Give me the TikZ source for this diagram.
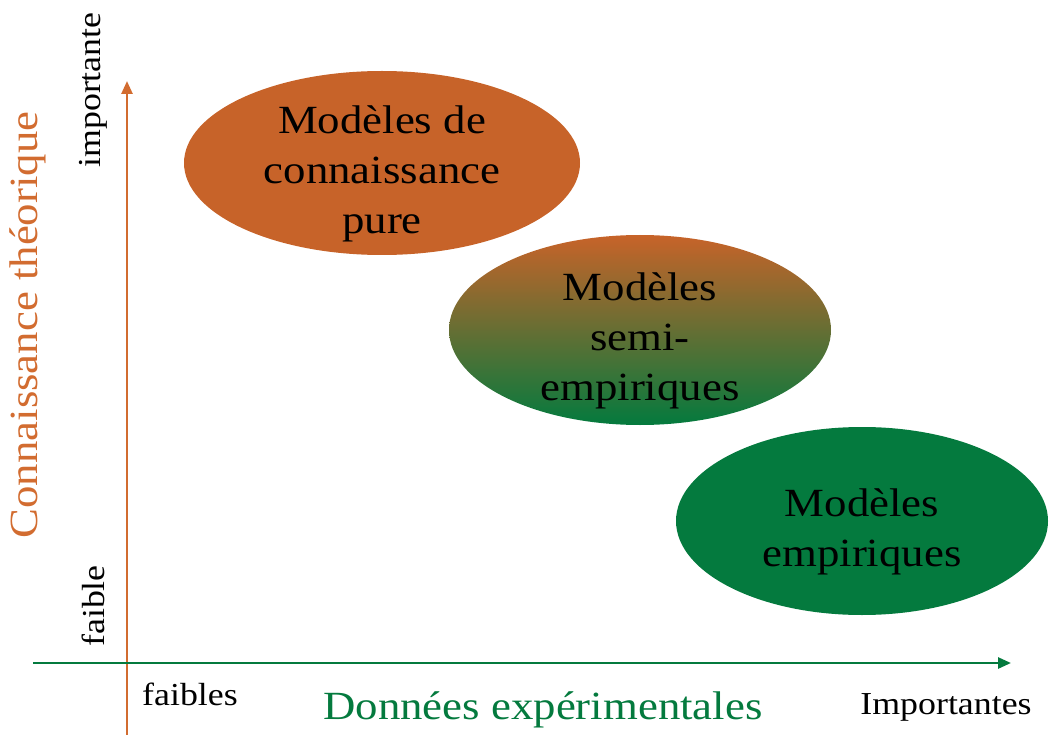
\documentclass[tikz,border=0pt]{standalone}
\usepackage{fontspec}
\setmainfont{Liberation Serif}[FakeStretch=1.12]
\usepackage{tikz}
\usetikzlibrary{shapes.geometric}
\usetikzlibrary{arrows.meta}

\definecolor{rouille}{RGB}{199,99,41}
\definecolor{vert}{RGB}{4,122,62}
\definecolor{axeorange}{RGB}{210,108,48}
\newcommand{\hautligne}{\rule{0pt}{49pt}}

\begin{document}
\begin{tikzpicture}[x=1pt, y=-1pt,
    model/.style={ellipse, inner sep=-20pt, align=center, text=black,
        font={\fontsize{40}{50}\selectfont}},
    axis/.style={line width=2.6pt, -{Triangle[length=13pt, width=11pt]}},
    tick/.style={font={\fontsize{32}{38}\selectfont}},
    title/.style={font={\fontsize{40}{48}\selectfont}}]
    \useasboundingbox (0,0) rectangle (1049,735);

    \node[model, fill=rouille, minimum width=396, minimum height=184] (pure) at (382,163)
        {\hautligne Modèles de\\connaissance\\pure};
    \node[model, top color=rouille, middle color=rouille!78!vert, bottom color=vert,
        minimum width=382, minimum height=190] (semi) at (640,330)
        {\hautligne Modèles\\semi-\\empiriques};
    \node[model, fill=vert, minimum width=372, minimum height=188] (empir) at (862,521)
        {\hautligne Modèles\\empiriques};

    \coordinate (ybas) at (127,735);
    \coordinate (yhaut) at (127,81);
    \coordinate (xgauche) at (33,663);
    \coordinate (xdroite) at (1011,663);
    \draw[axis, draw=axeorange, fill=axeorange] (ybas) to (yhaut);
    \draw[axis, draw=vert, fill=vert] (xgauche) to (xdroite);

    \node[title, text=axeorange, rotate=90] (yname) at (28,325) {Connaissance théorique};
    \node[tick, rotate=90] (yhigh) at (93,90) {importante};
    \node[tick, rotate=90] (ylow) at (93,606) {faible};
    \node[title, text=vert] (xname) at (543,710) {Données expérimentales};
    \node[tick] (xlow) at (190,694) {faibles};
    \node[tick] (xhigh) at (946,707) {Importantes};
\end{tikzpicture}
\end{document}
